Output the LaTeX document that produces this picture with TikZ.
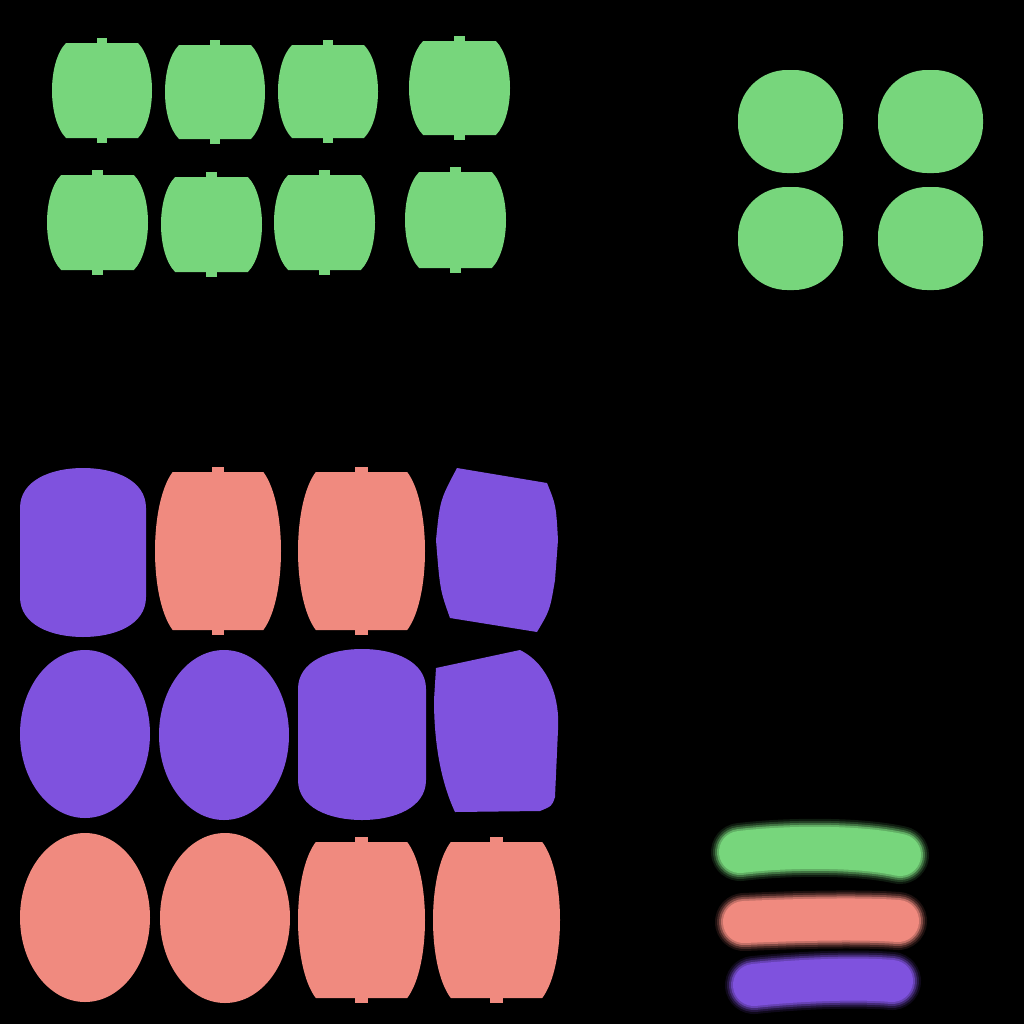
\documentclass[tikz,border=0pt]{standalone}
\usepackage{tikz}
\usetikzlibrary{calc}
\definecolor{leaf}{HTML}{77D67C}
\definecolor{salmon}{HTML}{F08A7F}
\definecolor{violet}{HTML}{7F52DE}
\tikzstyle{greenpart} = [fill=leaf]
\tikzstyle{redpart} = [fill=salmon]
\tikzstyle{purplepart} = [fill=violet]
\tikzstyle{smear} = [line cap=round, line join=round]

% barrel: x0 y0 x1 y1 style (pixel coordinates, y down)
\newcommand{\barrel}[5]{%
  \pgfmathsetmacro{\bi}{0.14*(#3-#1)}
  \pgfmathsetmacro{\bc}{\bi/3}
  \pgfmathsetmacro{\bh}{0.2*(#4-#2)}
  \pgfmathsetmacro{\tw}{0.05*(#3-#1)}
  \fill[#5] (#1+\bi,#2) -- (#3-\bi,#2) .. controls (#3+\bc,#2+\bh) and (#3+\bc,#4-\bh) .. (#3-\bi,#4) -- (#1+\bi,#4) .. controls (#1-\bc,#4-\bh) and (#1-\bc,#2+\bh) .. cycle;
  \fill[#5] ({(#1+#3)/2-\tw},#2-5) rectangle ({(#1+#3)/2+\tw},#2+1);
  \fill[#5] ({(#1+#3)/2-\tw},#4-1) rectangle ({(#1+#3)/2+\tw},#4+5);
}
% cask: straight sides, arched ends
\newcommand{\cask}[5]{%
  \pgfmathsetmacro{\cw}{0.25*(#3-#1)}
  \fill[#5] (#1,#2+40) .. controls (#1,#2+12) and (#1+\cw,#2) .. ({(#1+#3)/2},#2) .. controls (#3-\cw,#2) and (#3,#2+12) .. (#3,#2+40) -- (#3,#4-40) .. controls (#3,#4-12) and (#3-\cw,#4) .. ({(#1+#3)/2},#4) .. controls (#1+\cw,#4) and (#1,#4-12) .. (#1,#4-40) -- cycle;
}
% egg: x0 y0 x1 y1 style
\newcommand{\egg}[5]{%
  \fill[#5] ({(#1+#3)/2},{(#2+#4)/2}) ellipse ({(#3-#1)/2} and {(#4-#2)/2});
}

\begin{document}
\begin{tikzpicture}[x=0.01cm, y=-0.01cm]

\fill[black] (0,0) rectangle (1024,1024);
\useasboundingbox (0,0) rectangle (1024,1024);

% green barrels, top left
\barrel{52}{43}{152}{138}{greenpart}
\barrel{165}{45}{265}{139}{greenpart}
\barrel{278}{45}{378}{138}{greenpart}
\barrel{409}{41}{510}{135}{greenpart}
\barrel{47}{175}{148}{270}{greenpart}
\barrel{161}{177}{262}{272}{greenpart}
\barrel{274}{175}{375}{270}{greenpart}
\barrel{405}{172}{506}{268}{greenpart}

% green rounds, top right
\foreach \gx in {738, 878} {
  \foreach \gy in {70, 187} {
    \fill[greenpart, rounded corners=14pt] (\gx,\gy) rectangle (\gx+105,\gy+103);
  }
}

% row 1
\cask{20}{468}{146}{637}{purplepart}
\barrel{155}{472}{281}{630}{redpart}
\barrel{298}{472}{425}{630}{redpart}
\fill[purplepart] (457,468) -- (547,483) .. controls (556,505) .. (558,540) -- (555,580) .. controls (550,610) .. (537,632) -- (450,618) .. controls (440,590) .. (436,540) .. controls (440,500) .. cycle;

% row 2
\egg{20}{650}{150}{818}{purplepart}
\egg{159}{650}{289}{820}{purplepart}
\cask{298}{649}{426}{820}{purplepart}
\fill[purplepart] (436,668) -- (520,650) .. controls (550,665) and (560,700) .. (558,730) -- (555,797) .. controls (552,806) .. (540,811) -- (455,812) .. controls (440,780) and (434,740) .. (434,700) -- cycle;

% row 3
\egg{20}{833}{150}{1002}{redpart}
\egg{160}{833}{290}{1003}{redpart}
\barrel{298}{842}{425}{998}{redpart}
\barrel{433}{842}{560}{998}{redpart}

% blurred strokes
\foreach \w/\o in {58/0.12, 54/0.2, 50/0.35, 46/0.6, 42/1} {
  \draw[smear, leaf, line width=\w*0.2845pt, opacity=\o] (740,852) .. controls (790,846) and (860,846) .. (900,855);
  \draw[smear, salmon, line width=\w*0.2845pt, opacity=\o] (744,922) .. controls (790,920) and (860,918) .. (898,921);
  \draw[smear, violet, line width=\w*0.2845pt, opacity=\o] (754,985) .. controls (800,980) and (860,978) .. (892,981);
}

\end{tikzpicture}
\end{document}
